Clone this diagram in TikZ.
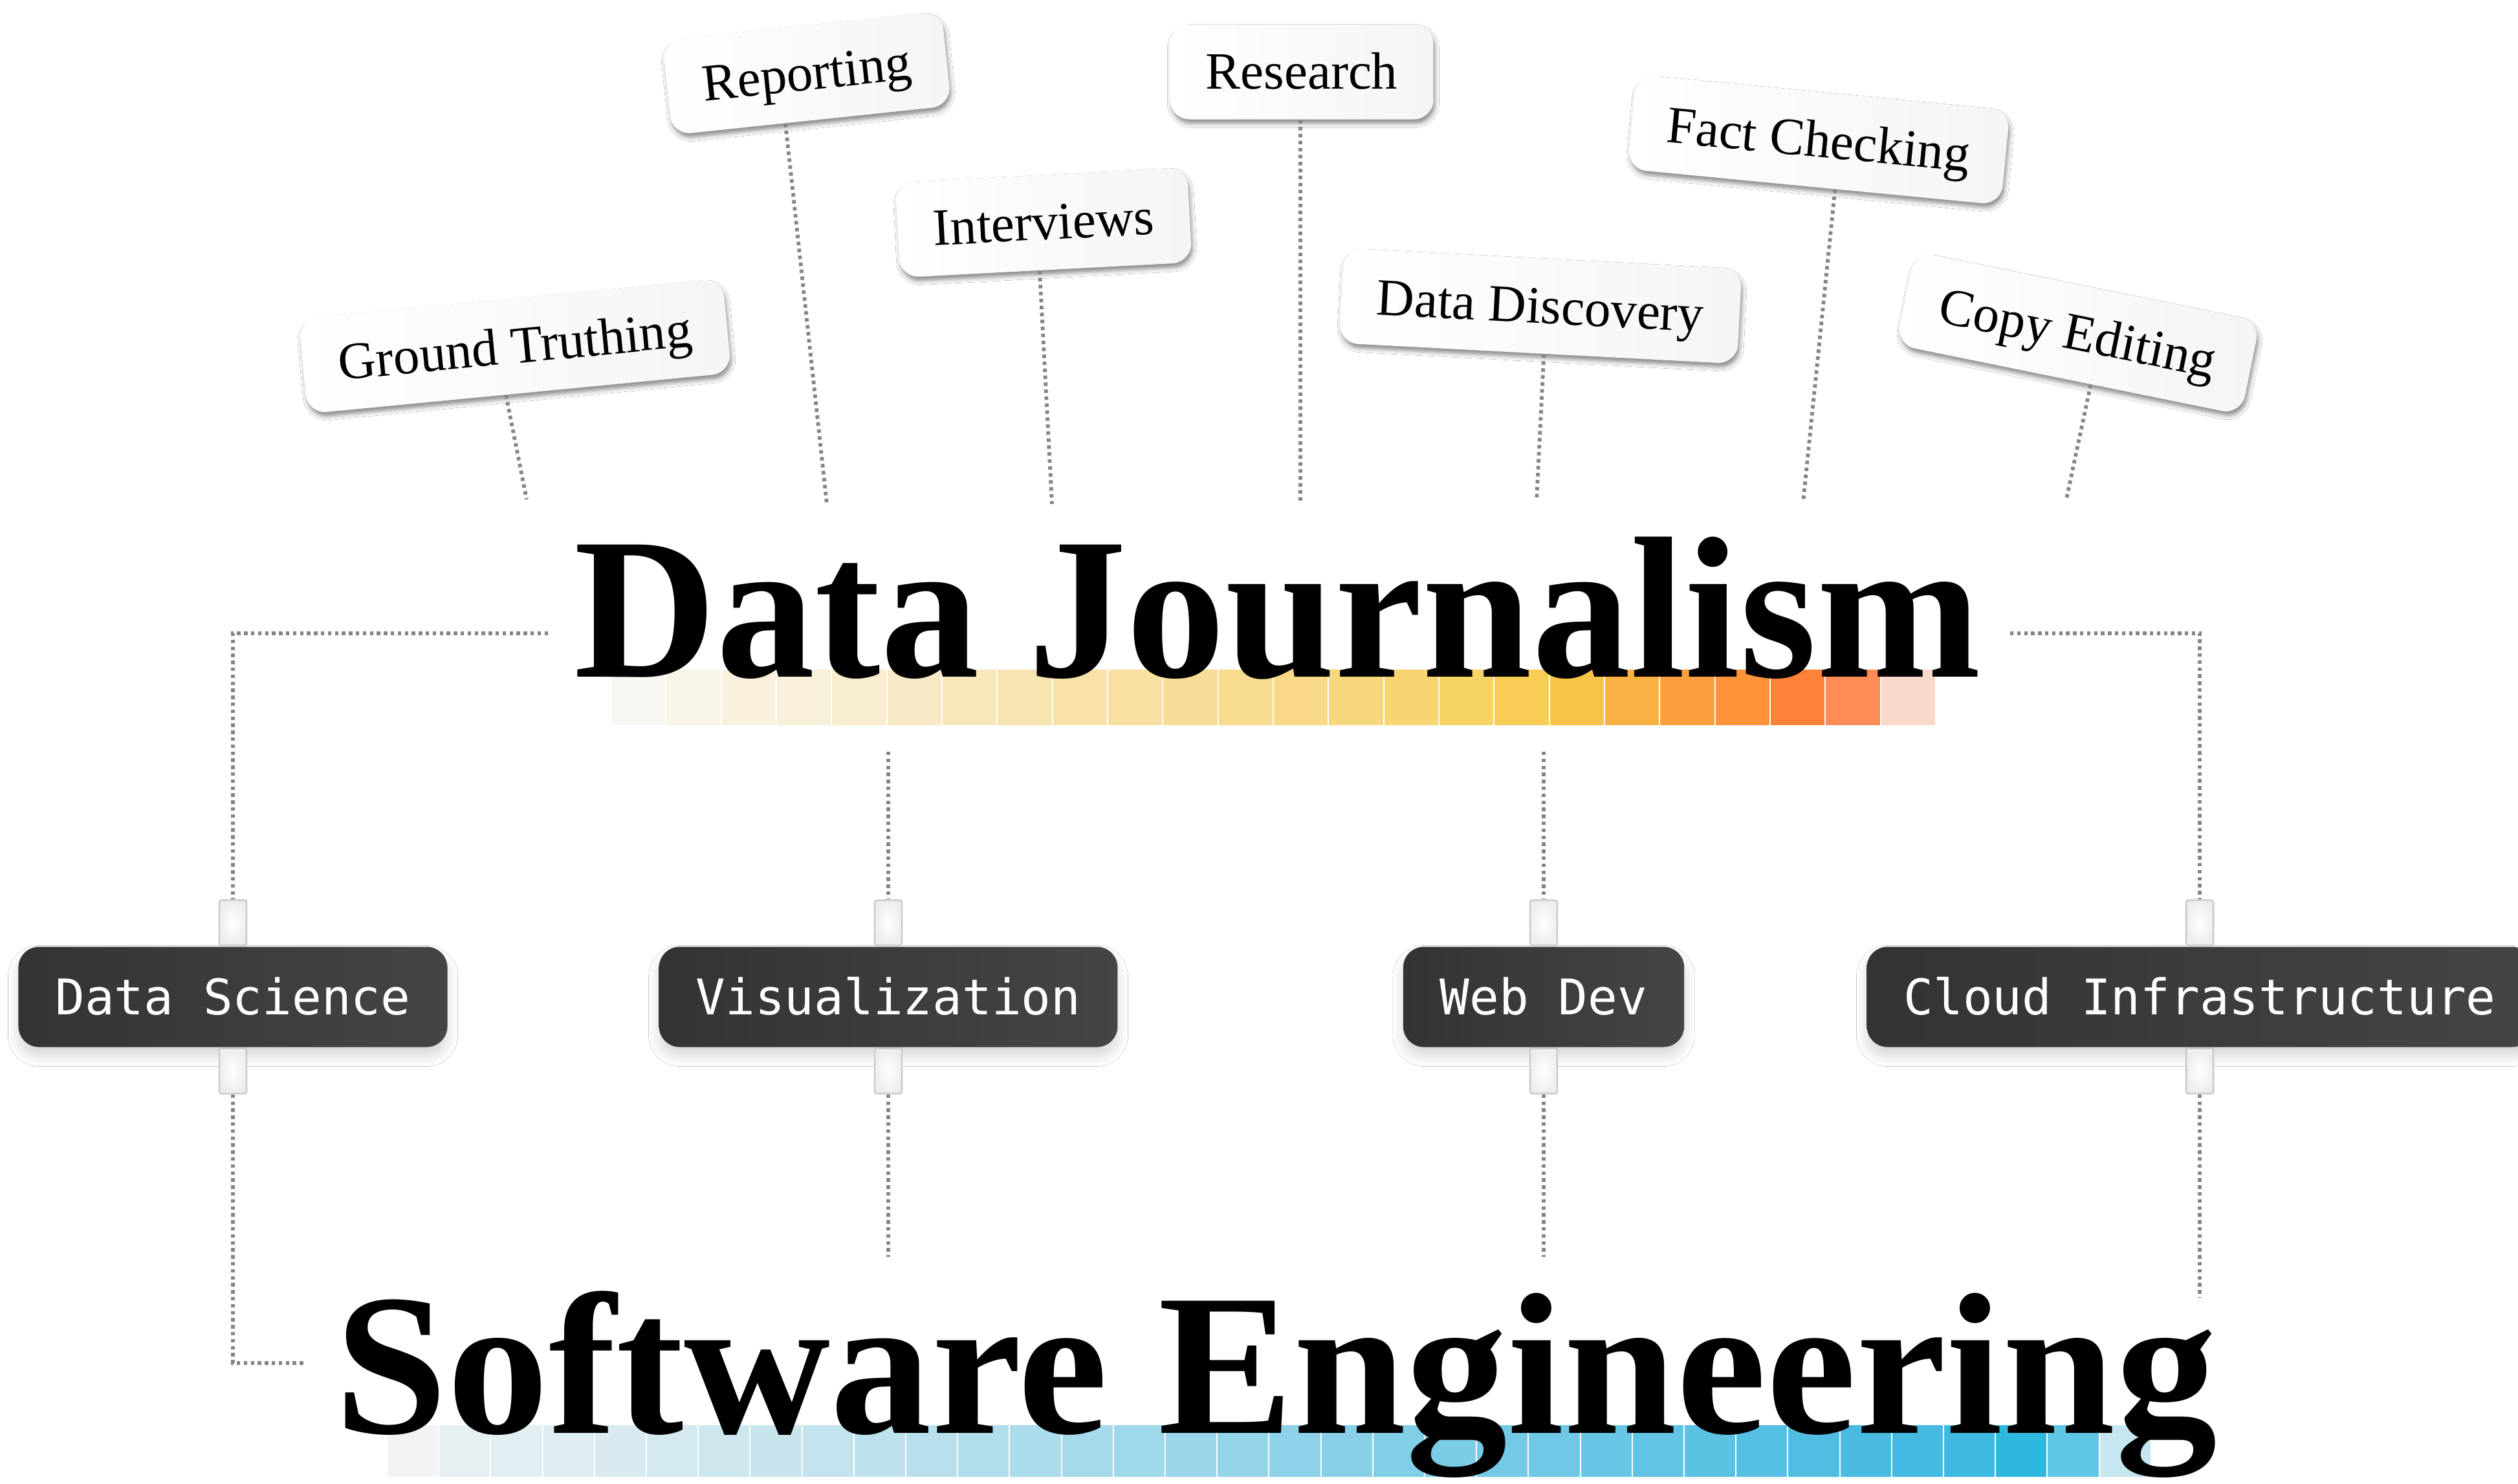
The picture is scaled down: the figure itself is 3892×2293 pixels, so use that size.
\documentclass[tikz,border=0pt]{standalone}
\usepackage{fontspec}
\setmainfont{Liberation Serif}
\newfontfamily\monofam{DejaVu Sans Mono}
\usetikzlibrary{calc,shadows.blur}

\begin{document}
\begin{tikzpicture}[x=0.25pt,y=-0.25pt,
  dotline/.style={draw=black!48, line width=1.45pt, dash pattern=on 1.35pt off 1.35pt},
  tagbox/.style={rectangle, rounded corners=7.5pt, left color=white, right color=black!4,
    minimum height=36.75pt, inner xsep=13.75pt, inner ysep=0pt, text height=13.3pt, text depth=0pt,
    font=\fontsize{20.25}{24}\selectfont,
    blur shadow={shadow xshift=0.6pt, shadow yshift=-1.6pt, shadow blur radius=1.6pt, shadow opacity=45}},
  darkbox/.style={rectangle, rounded corners=8pt, left color=black!80, right color=black!73, text=white,
    font=\monofam\fontsize{19}{22}\selectfont, minimum height=38.75pt, inner xsep=14.25pt, inner ysep=0pt,
    text height=13.85pt, text depth=0pt,
    blur shadow={shadow xshift=0pt, shadow yshift=-3.5pt, shadow blur radius=4pt, shadow blur steps=12, shadow opacity=16}},
  tabbox/.style={rectangle, draw=black!22, line width=0.6pt, inner color=white, outer color=black!7,
    minimum width=10.5pt, minimum height=17.5pt, inner sep=0pt, rounded corners=0.8pt},
  titletext/.style={anchor=base west, inner sep=0pt, font=\bfseries\fontsize{78}{80}\selectfont}
]
\fill[white] (0,0) rectangle (3892,2293);
\useasboundingbox (0,0) rectangle (3892,2293);

% colour bars
\foreach \c [count=\i from 0] in {F8F7F3,F8F4E7,F9F1DE,F9F0D9,F8EDCF,F8EAC6,F8E7BB,F8E4B1,F8E2A8,F8E0A0,F7DD97,F7DB8F,F7D987,F7D77E,F7D572,F7D264,F7CD55,F7C349,FAB143,FC9F3D,FE933A,FF8336,FF8B55,F9D9C9} {
  \definecolor{cellc}{HTML}{\c}
  \fill[cellc] ({945+\i*85.33},1035) rectangle ++(83.3,86);
}
\foreach \c [count=\i from 0] in {F2F3F5,E6F0F3,E2EFF2,DEEDF2,D9EBF1,D4E9F0,CDE7EF,C8E5EE,C3E4EE,BDE2ED,B7E0EC,B1DEEB,ABDCEB,A5DAEA,9FD8EA,99D6E9,93D4E9,8DD2E8,87D0E8,81CEE7,7BCCE7,74CAE6,6EC8E6,68C6E5,62C4E5,5CC2E4,56C0E4,50BEE3,4ABCE2,44BAE2,3EB9E1,2EB7DF,5FC6E5,C6E6F0} {
  \definecolor{cellc}{HTML}{\c}
  \fill[cellc] ({599+\i*80.2},2203) rectangle ++(78.2,80);
}

% titles
\node[titletext] (dj) at (887,1046) {\scalebox{0.976}[1]{Data Journalism}};
\node[titletext] (se) at (517,2215) {\scalebox{1.004}[1]{Software Engineering}};

% tags
\node[tagbox, rotate=5.5] (gt) at (796,535) {Ground Truthing};
\node[tagbox, rotate=6] (rep) at (1247,113) {Reporting};
\node[tagbox, rotate=3] (int) at (1613,344) {Interviews};
\node[tagbox] (res) at (2012,111) {Research};
\node[tagbox, rotate=-3] (dd) at (2381,473) {Data Discovery};
\node[tagbox, rotate=-5.5] (fc) at (2811,216) {Fact Checking};
\node[tagbox, rotate=-11.5] (ce) at (3212,515) {Copy Editing};

\coordinate (gtE) at (814,772);
\coordinate (repE) at (1278,779);
\coordinate (intE) at (1626,779);
\coordinate (resE) at (2010,779);
\coordinate (ddE) at (2375,774);
\coordinate (fcE) at (2787,776);
\coordinate (ceE) at (3194,771);
\draw[dotline] ($(gt.south west)!0.468!(gt.south east)$) -- (gtE);
\draw[dotline] ($(rep.south west)!0.406!(rep.south east)$) -- (repE);
\draw[dotline] ($(int.south west)!0.478!(int.south east)$) -- (intE);
\draw[dotline] ($(res.south west)!0.495!(res.south east)$) -- (resE);
\draw[dotline] ($(dd.south west)!0.515!(dd.south east)$) -- (ddE);
\draw[dotline] ($(fc.south west)!0.556!(fc.south east)$) -- (fcE);
\draw[dotline] ($(ce.south west)!0.564!(ce.south east)$) -- (ceE);

% dark boxes
\node[darkbox] (ds) at (360,1541) {Data Science};
\node[darkbox] (vi) at (1373,1541) {Visualization};
\node[darkbox] (wd) at (2386,1541) {Web Dev};
\node[darkbox] (cl) at (3400,1541) {Cloud Infrastructure};

% tabs
\foreach \b in {ds,vi,wd,cl} {
  \node[tabbox, anchor=south] (\b A) at (\b.north) {};
  \node[tabbox, anchor=north] (\b B) at (\b.south) {};
}

% connectors from Data Journalism
\coordinate (djL) at (847,979);
\coordinate (djR) at (3107,979);
\coordinate (barV) at (1373,1162);
\coordinate (barW) at (2386,1162);
\draw[dotline] (djL) -| (dsA.north);
\draw[dotline] (djR) -| (clA.north);
\draw[dotline] (barV) -- (viA.north);
\draw[dotline] (barW) -- (wdA.north);

% connectors to Software Engineering
\coordinate (seL) at (471,2107);
\coordinate (vEnd) at (1373,1943);
\coordinate (wEnd) at (2386,1943);
\coordinate (cEnd) at (3400,2005);
\draw[dotline] (dsB.south) |- (seL);
\draw[dotline] (viB.south) -- (vEnd);
\draw[dotline] (wdB.south) -- (wEnd);
\draw[dotline] (clB.south) -- (cEnd);
\end{tikzpicture}
\end{document}
